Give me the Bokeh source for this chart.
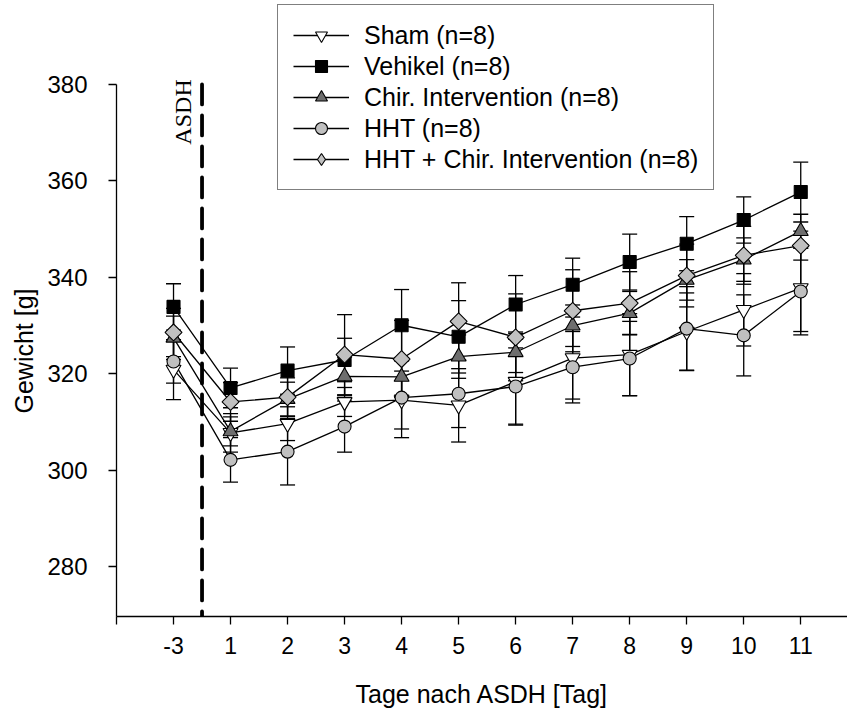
import numpy as np
from bokeh.plotting import figure
from bokeh.models import (ColumnDataSource, Range1d, Whisker, TeeHead, Legend, LegendItem,
                          FixedTicker, Label, Title)
from bokeh.embed import file_html
from bokeh.resources import INLINE

# ---------------- data ----------------
days = ["-3", "1", "2", "3", "4", "5", "6", "7", "8", "9", "10", "11"]

sham = [320.9, 307.8, 309.7, 314.2, 314.6, 313.5, 318.4, 323.3, 324.0, 328.8, 333.3, 337.8]
sham_err = [6.2, 4.0, 3.5, 3.0, 6.0, 7.6, 8.8, 8.5, 8.5, 8.0, 7.5, 9.0]

vehikel = [333.9, 317.1, 320.7, 322.9, 330.1, 327.7, 334.4, 338.5, 343.2, 347.0, 351.9, 357.7]
vehikel_err = [4.8, 4.1, 4.9, 4.5, 7.4, 7.5, 6.0, 5.5, 5.8, 5.6, 4.8, 6.2]

chir = [327.5, 308.1, 314.8, 319.5, 319.4, 323.6, 324.5, 330.0, 332.6, 339.5, 343.7, 349.6]
chir_err = [4.5, 3.0, 3.5, 4.0, 3.8, 4.5, 4.2, 4.3, 4.5, 4.2, 4.5, 3.5]

hht = [322.6, 302.2, 303.9, 309.1, 315.1, 315.9, 317.4, 321.4, 323.2, 329.4, 328.0, 337.1]
hht_err = [4.5, 4.6, 6.9, 5.3, 8.3, 7.0, 8.0, 7.4, 7.7, 8.7, 8.4, 9.0]

combo = [328.6, 314.2, 315.2, 324.0, 323.1, 330.9, 327.6, 333.1, 334.7, 340.4, 344.6, 346.6]
combo_err = [5.0, 4.0, 4.0, 8.3, 8.0, 8.0, 9.0, 8.5, 6.5, 6.5, 6.0, 3.0]

labels = ["Sham (n=8)", "Vehikel (n=8)", "Chir. Intervention (n=8)", "HHT (n=8)",
          "HHT + Chir. Intervention (n=8)"]
y_ticks = [280, 300, 320, 340, 360, 380]
asdh_pos = 1.5  # between day -3 and day 1

# ---------------- figure ----------------
FONT = "Liberation Sans"
x = list(range(1, len(days) + 1))
Y0, Y1 = 269.74, 397.4

p = figure(frame_width=731, frame_height=616, output_backend="svg", toolbar_location=None,
           x_range=Range1d(0, 12.82), y_range=Range1d(Y0, Y1),
           min_border_left=116, min_border_right=0, min_border_top=0, min_border_bottom=97)
p.outline_line_color = None
p.xgrid.visible = False
p.ygrid.visible = False
p.background_fill_color = "white"
p.border_fill_color = "white"

series = [
    (sham, sham_err, dict(marker="inverted_triangle", size=15, fill_color="white")),
    (vehikel, vehikel_err, dict(marker="square", size=13, fill_color="black")),
    (chir, chir_err, dict(marker="triangle", size=15, fill_color="#6e6e6e")),
    (hht, hht_err, dict(marker="circle", size=13, fill_color="#c0c0c0")),
    (combo, combo_err, dict(marker="square", size=12, angle=np.pi / 4, fill_color="#c0c0c0")),
]

sources = []
for vals, err, _ in series:
    src = ColumnDataSource(dict(x=x, y=vals,
                                upper=[v + e for v, e in zip(vals, err)],
                                lower=[v - e for v, e in zip(vals, err)]))
    sources.append(src)
    w = Whisker(source=src, base="x", upper="upper", lower="lower", dimension="height",
                line_color="black", line_width=1.3, level="underlay",
                upper_head=TeeHead(size=15, line_color="black", line_width=1.3),
                lower_head=TeeHead(size=15, line_color="black", line_width=1.3))
    p.add_layout(w)

line_rs = []
for src in sources:
    line_rs.append(p.line("x", "y", source=src, line_color="black", line_width=1.3))

mark_rs = []
for src, (_, _, st) in zip(sources, series):
    mark_rs.append(p.scatter("x", "y", source=src, line_color="black", line_width=1.1, **st))

# legend-only diamond glyph (legend markers cannot be rotated); its point is not drawn
legend_diamond = p.scatter(x=[float("nan")], y=[float("nan")], marker="diamond",
                           fill_color="#c0c0c0", line_color="black", line_width=1.1)

# ASDH dashed line
p.segment(x0=[asdh_pos], y0=[380], x1=[asdh_pos], y1=[Y0], line_color="black",
          line_width=3.8, line_dash="20 11", line_cap="round")
p.add_layout(Label(x=1.17, y=374.3, text="ASDH", angle=np.pi / 2, text_align="center",
                   text_baseline="middle", text_font="Liberation Serif", text_font_size="24px",
                   text_color="black"))

# axes
p.xaxis.ticker = FixedTicker(ticks=list(range(0, len(days) + 1)))
p.xaxis.major_label_overrides = {0: ""} | {i + 1: d for i, d in enumerate(days)}
p.yaxis.ticker = FixedTicker(ticks=y_ticks)
p.yaxis.bounds = (Y0, 380)
for ax in (p.xaxis[0], p.yaxis[0]):
    ax.axis_line_color = "black"
    ax.axis_line_width = 1.3
    ax.major_tick_line_color = "black"
    ax.major_tick_line_width = 1.3
    ax.major_tick_out = 8
    ax.major_tick_in = 0
    ax.minor_tick_line_color = None
    ax.major_label_text_font = FONT
    ax.major_label_text_color = "black"
p.xaxis.major_label_text_font_size = "23px"
p.yaxis.major_label_text_font_size = "24px"
p.xaxis.major_label_standoff = 12

# x-axis title
p.xaxis.axis_label = "Tage nach ASDH [Tag]"
p.xaxis.axis_label_text_font = FONT
p.xaxis.axis_label_text_font_size = "25px"
p.xaxis.axis_label_text_font_style = "normal"
p.xaxis.axis_label_text_color = "black"
p.xaxis.axis_label_standoff = 23

# y-axis title as a side title (so that it can be centred on the drawn axis)
p.yaxis.major_label_standoff = 21
ytitle = Title(text="Gewicht [g]", align="left", offset=203, vertical_align="top",
               standoff=10, text_font=FONT, text_font_size="25px", text_font_style="normal",
               text_color="black")
p.add_layout(ytitle, "left")

# legend
legend_marks = mark_rs[:4] + [legend_diamond]
items = [LegendItem(label=lab, renderers=[lr, mr]) for lab, lr, mr in zip(labels, line_rs, legend_marks)]
legend = Legend(items=items, location=(161, 426), orientation="vertical",
                label_text_font=FONT, label_text_font_size="25px", label_text_color="black",
                glyph_width=56, glyph_height=30, label_height=29, label_standoff=15,
                spacing=1, padding=15, margin=0,
                border_line_color="black", border_line_width=1.2,
                background_fill_color="white", background_fill_alpha=1.0)
p.add_layout(legend, "center")

open("out.html", "w").write(file_html(p, INLINE))
